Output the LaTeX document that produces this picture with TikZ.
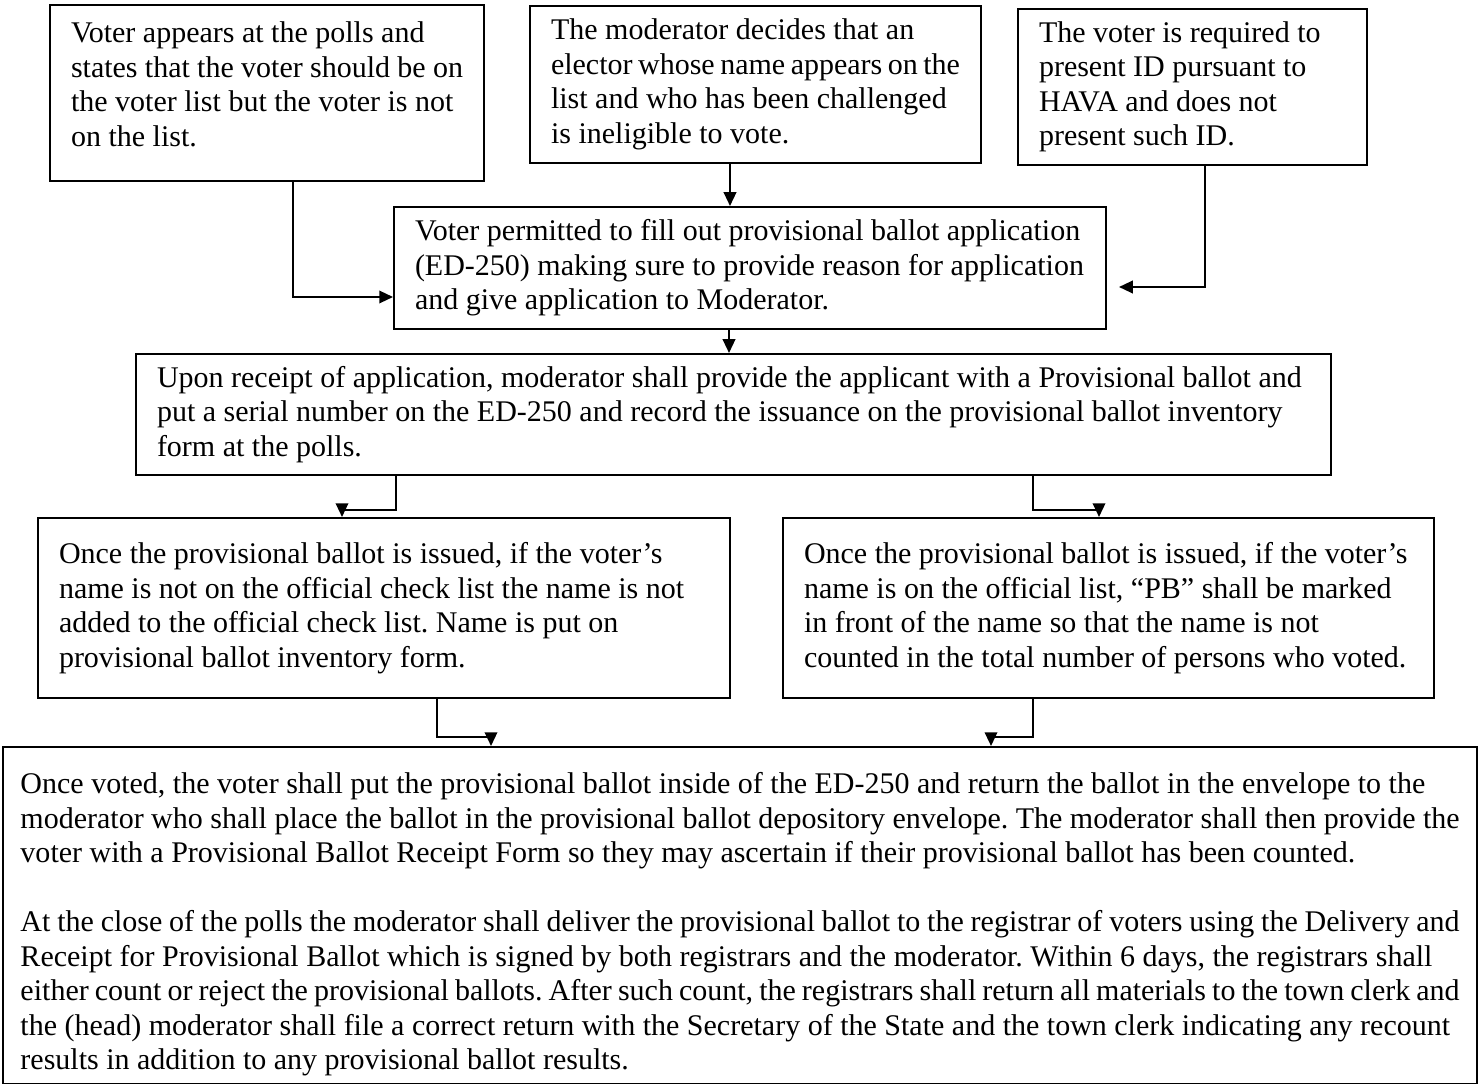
\documentclass[tikz,border=0pt]{standalone}
\usepackage{fontspec}
\setmainfont{Liberation Serif}
\usepackage{tikz}
\usetikzlibrary{arrows.meta}
\frenchspacing
% lines are broken by hand; a line that is a little too long is squeezed, not wrapped
\newcommand{\squeezelines}{\rightskip=0pt plus 1fil\relax\spaceskip=\fontdimen2\font minus 0.16em\relax\linepenalty=1000\relax\hyphenpenalty=10000\relax}

\begin{document}
\begin{tikzpicture}[
    x=0.4pt, y=-0.4pt,
    block/.style={rectangle, draw, line width=0.8pt, anchor=north west, align=left, inner xsep=8.4pt, inner ysep=0pt, font=\fontsize{12}{13.8}\selectfont},
    arrow/.style={-{Triangle[width=5pt,length=5.5pt]}, line width=0.8pt}
]
    \useasboundingbox (0,0) rectangle (1478,1084);

    % Nodes
    \node[block, text width=156.8pt, minimum height=70.4pt] (voter) at (49,4)
        {\squeezelines Voter appears at the polls and\\states that the voter should be on\\the voter list but the voter is not\\on the list.\par\vspace{7pt}\hrule height 0pt};
    \node[block, text width=163.6pt, minimum height=62.8pt] (moderator) at (529,5)
        {\squeezelines The moderator decides that an\\elector whose name appears on the\\list and who has been challenged\\is ineligible to vote.};
    \node[block, text width=122.8pt, minimum height=62.4pt] (hava) at (1017,8)
        {\squeezelines The voter is required to\\present ID pursuant to\\HAVA and does not\\present such ID.};
    \node[block, text width=268pt, minimum height=48.8pt] (permit) at (393,206)
        {\squeezelines Voter permitted to fill out provisional ballot application\\(ED-250) making sure to provide reason for application\\and give application to Moderator.};
    \node[block, text width=461.2pt, minimum height=48.4pt] (receipt) at (135,353)
        {\squeezelines Upon receipt of application, moderator shall provide the applicant with a Provisional ballot and\\put a serial number on the ED-250 and record the issuance on the provisional ballot inventory\\form at the polls.};
    \node[block, text width=260pt, minimum height=72pt] (notlisted) at (37,517)
        {\squeezelines Once the provisional ballot is issued, if the voter’s\\name is not on the official check list the name is not\\added to the official check list. Name is put on\\provisional ballot inventory form.};
    \node[block, text width=243.6pt, minimum height=72pt] (listed) at (782,517)
        {\squeezelines Once the provisional ballot is issued, if the voter’s\\name is on the official list, “PB” shall be marked\\in front of the name so that the name is not\\counted in the total number of persons who voted.};
    \node[block, inner xsep=7pt, text width=575.6pt, minimum height=134.8pt] (voted) at (2,746)
        {\squeezelines\hrule height 0pt\vspace{7pt}Once voted, the voter shall put the provisional ballot inside of the ED-250 and return the ballot in the envelope to the\\moderator who shall place the ballot in the provisional ballot depository envelope. The moderator shall then provide the\\voter with a Provisional Ballot Receipt Form so they may ascertain if their provisional ballot has been counted.\\[13.8pt]At the close of the polls the moderator shall deliver the provisional ballot to the registrar of voters using the Delivery and\\Receipt for Provisional Ballot which is signed by both registrars and the moderator. Within 6 days, the registrars shall\\either count or reject the provisional ballots. After such count, the registrars shall return all materials to the town clerk and\\the (head) moderator shall file a correct return with the Secretary of the State and the town clerk indicating any recount\\results in addition to any provisional ballot results.};

    % Arrows
    \draw[arrow] ([xshift=10.4pt]voter.south) |- ([yshift=-11.6pt]permit.west);
    \draw[arrow] ([xshift=-10.2pt]moderator.south) -- ([xshift=-10.2pt]moderator.south |- permit.north);
    \draw[arrow] ([xshift=5pt]hava.south) |- ([xshift=4.8pt, yshift=-7.6pt]permit.east);
    \draw[arrow] ([xshift=-8.4pt]permit.south) -- ([xshift=-8.4pt]permit.south |- receipt.north);
    \draw[arrow] ([xshift=-135pt]receipt.south) -- ++(0,34) -| ([xshift=-16.8pt]notlisted.north);
    \draw[arrow] ([xshift=119.8pt]receipt.south) -- ++(0,34) -| ([xshift=-3.8pt]listed.north);
    \draw[arrow] ([xshift=21.2pt]notlisted.south) -- ++(0,38) -| ([xshift=-99.6pt]voted.north);
    \draw[arrow] ([xshift=-30.2pt]listed.south) -- ++(0,38) -| ([xshift=100.4pt]voted.north);
\end{tikzpicture}
\end{document}
